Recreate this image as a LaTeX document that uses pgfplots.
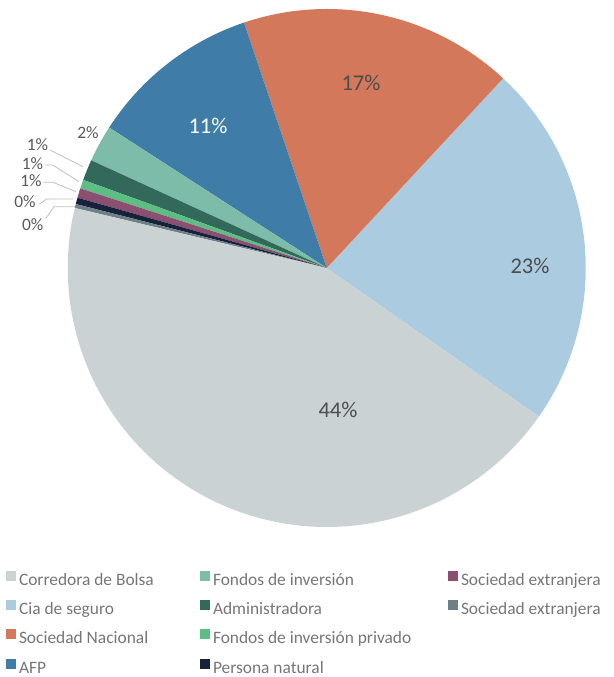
\documentclass[border=0pt]{standalone}
\usepackage{pgfplots}
\pgfplotsset{compat=1.18}
\usepackage{fontspec}
\setmainfont{Carlito}

\definecolor{cCorr}{HTML}{CAD2D3}
\definecolor{cCia}{HTML}{AACBE0}
\definecolor{cSocNac}{HTML}{D3785A}
\definecolor{cAFP}{HTML}{3F7DA8}
\definecolor{cFondos}{HTML}{7EBCAA}
\definecolor{cAdmin}{HTML}{32695A}
\definecolor{cFPriv}{HTML}{5DBE84}
\definecolor{cPersona}{HTML}{17213B}
\definecolor{cSocExtA}{HTML}{8B4F72}
\definecolor{cSocExtB}{HTML}{6E7F86}
\definecolor{labtxt}{HTML}{595959}
\definecolor{legtxt}{HTML}{767676}
\definecolor{intxt}{HTML}{4D4D4D}
\definecolor{leader}{HTML}{BFBFBF}

% pie geometry (centre, radius) and first slice angle
\def\pcx{326.75}
\def\pcy{409}
\def\pr{259}
\gdef\angA{-35}
\newcommand{\slice}[2]{%
  \pgfmathsetmacro{\angB}{\angA+3.6*#1}%
  \edef\doslice{\noexpand\addplot[fill=#2,draw=none,forget plot,domain=\angA:\angB,samples=120,variable=\noexpand\t]}%
  \doslice ({\pcx+\pr*cos(\t)},{\pcy+\pr*sin(\t)}) -- (axis cs:\pcx,\pcy) -- cycle;%
  \global\let\angA\angB
}

\tikzset{
  outlab/.style={text=labtxt, font=\fontsize{17.4}{20}\selectfont, inner sep=0pt},
  inlab/.style={text=intxt, font=\fontsize{22.5}{25}\selectfont, inner sep=0pt},
}

\pgfplotsset{
  legstyle/.style={
    legend cell align=left,
    legend image code/.code={\fill[##1] (0pt,0.5pt) rectangle (10pt,10.5pt);},
    legend style={draw=none, fill=none, inner sep=0pt, outer sep=0pt,
      anchor=north west, row sep=11.2pt,
      font=\fontsize{17.4}{20}\selectfont, text=legtxt,
      nodes={inner sep=0pt, outer sep=0pt, text height=11.5pt, text depth=3.5pt},
      /tikz/every odd column/.append style={column sep=3pt}},
  },
  base/.style={x=1pt, y=1pt, xmin=0, xmax=613, ymin=0, ymax=677,
    hide axis, clip=false, at={(0,0)}, anchor=south west},
}

\begin{document}
\begin{tikzpicture}
\begin{axis}[base, name=main, legstyle, legend style={at={(axis cs:6,106)}}]
% values in percent, counter-clockwise from the first slice angle
\slice{22.8}{cCia}      % Cia de seguro
\slice{17.1}{cSocNac}   % Sociedad Nacional
\slice{10.7}{cAFP}      % AFP
\slice{2.3}{cFondos}    % Fondos de inversion
\slice{1.3}{cAdmin}     % Administradora
\slice{0.55}{cFPriv}    % Fondos de inversion privado
\slice{0.6}{cSocExtA}   % Sociedad extranjera
\slice{0.4}{cPersona}   % Persona natural
\slice{0.25}{cSocExtB}  % Sociedad extranjera
\slice{44.0}{cCorr}     % Corredora de Bolsa

% inner labels
\node[inlab] at (axis cs:338,267) {44\%};
\node[inlab] at (axis cs:530,411) {23\%};
\node[inlab] at (axis cs:361,594) {17\%};
\node[inlab, text=white] at (axis cs:208,551) {11\%};

% outer labels and leader lines
\node[outlab] at (axis cs:88,544) {2\%};
\node[outlab] at (axis cs:37.5,532) {1\%};
\node[outlab] at (axis cs:32.5,513.5) {1\%};
\node[outlab] at (axis cs:31,496) {1\%};
\node[outlab] at (axis cs:25,475.5) {0\%};
\node[outlab] at (axis cs:32.7,452) {0\%};
\draw[leader, line width=0.8pt] (axis cs:50,527) -- (axis cs:83,510.3);
\draw[leader, line width=0.8pt] (axis cs:45,512) -- (axis cs:52.7,512) -- (axis cs:79,495.3);
\draw[leader, line width=0.8pt] (axis cs:43.3,494.7) -- (axis cs:53,494.7) -- (axis cs:76,485.3);
\draw[leader, line width=0.8pt] (axis cs:39.3,472.7) -- (axis cs:46.7,478) -- (axis cs:73.3,478);
\draw[leader, line width=0.8pt] (axis cs:46,458.7) -- (axis cs:54,470.3) -- (axis cs:75,470.3);

\addlegendimage{fill=cCorr, draw=none}\addlegendentry{Corredora de Bolsa}
\addlegendimage{fill=cCia, draw=none}\addlegendentry{Cia de seguro}
\addlegendimage{fill=cSocNac, draw=none}\addlegendentry{Sociedad Nacional}
\addlegendimage{fill=cAFP, draw=none}\addlegendentry{AFP}
\end{axis}

\begin{axis}[base, legstyle, legend style={at={(axis cs:200,106)}}]
\addlegendimage{fill=cFondos, draw=none}\addlegendentry{Fondos de inversión}
\addlegendimage{fill=cAdmin, draw=none}\addlegendentry{Administradora}
\addlegendimage{fill=cFPriv, draw=none}\addlegendentry{Fondos de inversión privado}
\addlegendimage{fill=cPersona, draw=none}\addlegendentry{Persona natural}
\end{axis}

\begin{axis}[base, legstyle, legend style={at={(axis cs:448,106)}}]
\addlegendimage{fill=cSocExtA, draw=none}\addlegendentry{Sociedad extranjera}
\addlegendimage{fill=cSocExtB, draw=none}\addlegendentry{Sociedad extranjera}
\end{axis}

\pgfresetboundingbox
\path (main.south west) rectangle (main.north east);
\end{tikzpicture}
\end{document}
